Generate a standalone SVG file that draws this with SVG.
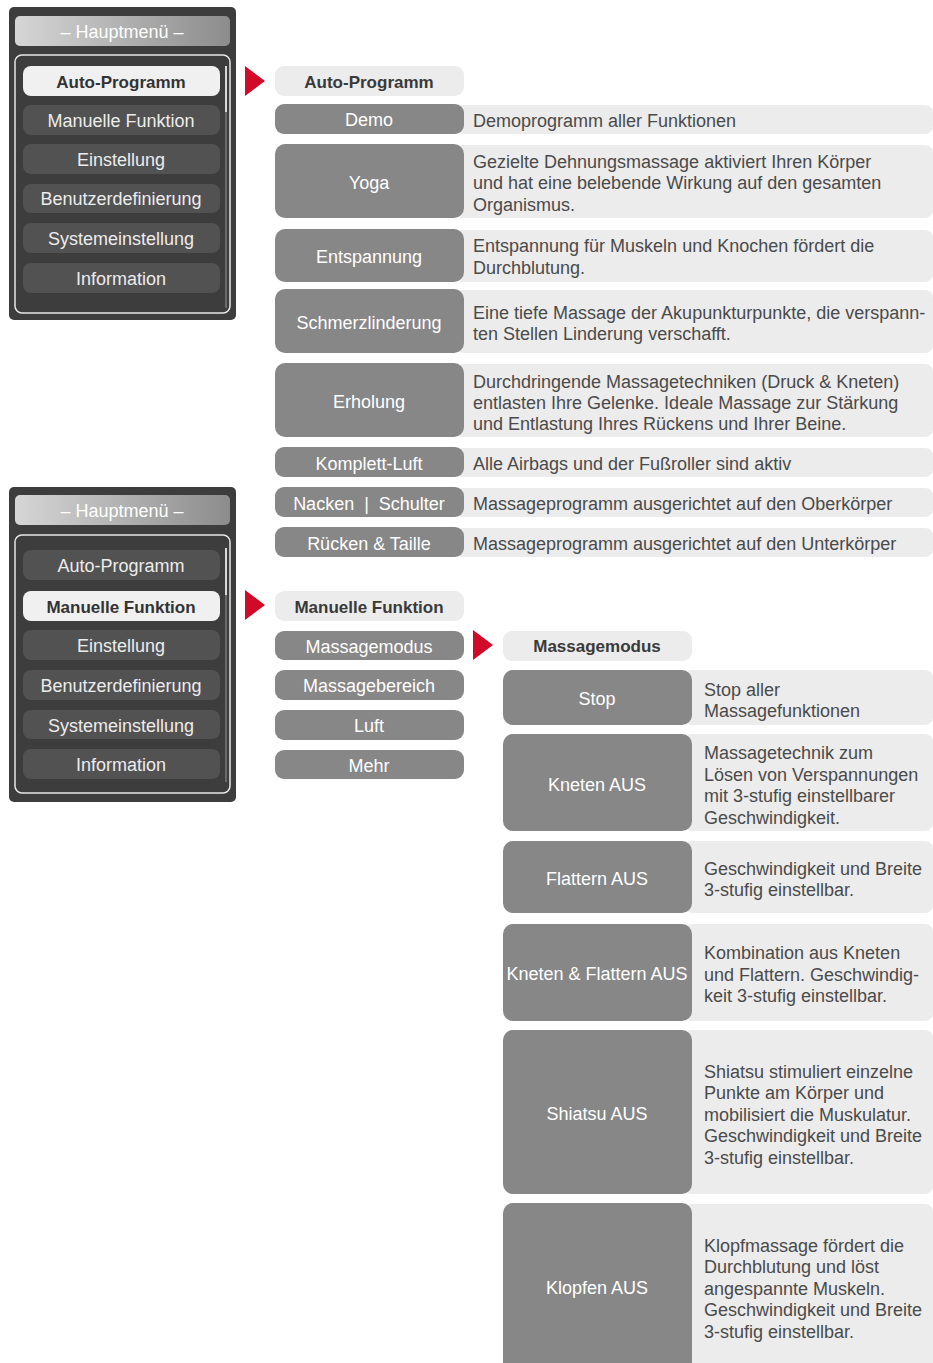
<svg xmlns="http://www.w3.org/2000/svg" width="933" height="1363" viewBox="0 0 933 1363">
<defs>
<linearGradient id="hg" x1="0" y1="0" x2="1" y2="0">
<stop offset="0" stop-color="#d6d6d6"/>
<stop offset="1" stop-color="#8c8c8c"/>
</linearGradient>
<style>
.pn{fill:#3d3d3d}
.hb{fill:url(#hg)}
.ib{fill:none;stroke:#e6e6e6;stroke-width:1.5}
.mb{fill:#525252}
.ms{fill:#f0f0f0}
.trk{stroke:#6a6a6a;stroke-width:2}
.thm{stroke:#d8d8d8;stroke-width:2}
.mt{font-family:"Liberation Sans",Arial,sans-serif;font-size:18px;fill:#ececec;text-anchor:middle}
.mts{font-family:"Liberation Sans",Arial,sans-serif;font-size:17px;font-weight:bold;fill:#333;text-anchor:middle}
.hdt{font-family:"Liberation Sans",Arial,sans-serif;font-size:18px;fill:#ffffff;text-anchor:middle}
.hd{fill:#ececec}
.ht{font-family:"Liberation Sans",Arial,sans-serif;font-size:17px;font-weight:bold;fill:#3a3a3a;text-anchor:middle}
.dk{fill:#878787}
.lt{fill:#ececec}
.lb{font-family:"Liberation Sans",Arial,sans-serif;font-size:18px;fill:#ffffff;text-anchor:middle}
.ds{font-family:"Liberation Sans",Arial,sans-serif;font-size:18px;fill:#4a4a4a}
.arr{fill:#d20a2a}
</style>
</defs>
<rect width="933" height="1363" fill="#ffffff"/>

<!-- Menu panel 1 -->
<g id="menu1">
<rect class="pn" x="9" y="7" width="227" height="313" rx="5"/>
<rect class="hb" x="15" y="16" width="215" height="30" rx="5"/>
<text class="hdt" x="122" y="38">– Hauptmenü –</text>
<rect class="ib" x="15" y="55" width="215" height="258" rx="7"/>
<line class="trk" x1="226" y1="66" x2="226" y2="308"/>
<line class="thm" x1="226" y1="66" x2="226" y2="112"/>
<rect class="ms" x="23" y="66" width="197" height="30" rx="8"/>
<text class="mts" x="121" y="88">Auto-Programm</text>
<rect class="mb" x="23" y="105" width="197" height="30" rx="8"/>
<text class="mt" x="121" y="127">Manuelle Funktion</text>
<rect class="mb" x="23" y="144" width="197" height="30" rx="8"/>
<text class="mt" x="121" y="166">Einstellung</text>
<rect class="mb" x="23" y="184" width="197" height="29" rx="8"/>
<text class="mt" x="121" y="205">Benutzerdefinierung</text>
<rect class="mb" x="23" y="223" width="197" height="30" rx="8"/>
<text class="mt" x="121" y="245">Systemeinstellung</text>
<rect class="mb" x="23" y="263" width="197" height="30" rx="8"/>
<text class="mt" x="121" y="285">Information</text>
</g>

<!-- Menu panel 2 -->
<g id="menu2">
<rect class="pn" x="9" y="487" width="227" height="315" rx="5"/>
<rect class="hb" x="15" y="495" width="215" height="30" rx="5"/>
<text class="hdt" x="122" y="517">– Hauptmenü –</text>
<rect class="ib" x="15" y="535" width="215" height="258" rx="7"/>
<line class="trk" x1="226" y1="548" x2="226" y2="782"/>
<line class="thm" x1="226" y1="548" x2="226" y2="595"/>
<rect class="mb" x="23" y="550" width="197" height="30" rx="8"/>
<text class="mt" x="121" y="572">Auto-Programm</text>
<rect class="ms" x="23" y="591" width="197" height="30" rx="8"/>
<text class="mts" x="121" y="613">Manuelle Funktion</text>
<rect class="mb" x="23" y="630" width="197" height="30" rx="8"/>
<text class="mt" x="121" y="652">Einstellung</text>
<rect class="mb" x="23" y="670" width="197" height="30" rx="8"/>
<text class="mt" x="121" y="692">Benutzerdefinierung</text>
<rect class="mb" x="23" y="710" width="197" height="29" rx="8"/>
<text class="mt" x="121" y="732">Systemeinstellung</text>
<rect class="mb" x="23" y="749" width="197" height="30" rx="8"/>
<text class="mt" x="121" y="771">Information</text>
</g>

<!-- Connectors (red pointers) -->
<g id="connectors">
<polygon class="arr" points="245,66 265,81 245,96"/>
<polygon class="arr" points="245,590 265,605 245,620"/>
<polygon class="arr" points="473,630 493,645 473,660"/>
</g>

<!-- Auto-Programm list -->
<g id="auto-header">
<rect class="hd" x="275" y="66" width="189" height="30" rx="9"/>
<text class="ht" x="369" y="88">Auto-Programm</text>
</g>
<g id="demo">
<rect class="lt" x="455" y="105" width="478" height="29" rx="8"/>
<rect class="dk" x="275" y="104" width="189" height="30" rx="9"/>
<text class="lb" x="369" y="126">Demo</text>
<text class="ds" x="473" y="127">Demoprogramm aller Funktionen</text>
</g>
<g id="yoga">
<rect class="lt" x="455" y="145" width="478" height="73" rx="8"/>
<rect class="dk" x="275" y="144" width="189" height="74" rx="10"/>
<text class="lb" x="369" y="189">Yoga</text>
<text class="ds" x="473" y="168">Gezielte Dehnungsmassage aktiviert Ihren Körper</text>
<text class="ds" x="473" y="189">und hat eine belebende Wirkung auf den gesamten</text>
<text class="ds" x="473" y="211">Organismus.</text>
</g>
<g id="entspannung">
<rect class="lt" x="455" y="230" width="478" height="52" rx="8"/>
<rect class="dk" x="275" y="229" width="189" height="53" rx="10"/>
<text class="lb" x="369" y="263">Entspannung</text>
<text class="ds" x="473" y="252">Entspannung für Muskeln und Knochen fördert die</text>
<text class="ds" x="473" y="274">Durchblutung.</text>
</g>
<g id="schmerzlinderung">
<rect class="lt" x="455" y="290" width="478" height="63" rx="8"/>
<rect class="dk" x="275" y="289" width="189" height="64" rx="10"/>
<text class="lb" x="369" y="329">Schmerzlinderung</text>
<text class="ds" x="473" y="319">Eine tiefe Massage der Akupunkturpunkte, die verspann-</text>
<text class="ds" x="473" y="340">ten Stellen Linderung verschafft.</text>
</g>
<g id="erholung">
<rect class="lt" x="455" y="364" width="478" height="73" rx="8"/>
<rect class="dk" x="275" y="363" width="189" height="74" rx="10"/>
<text class="lb" x="369" y="408">Erholung</text>
<text class="ds" x="473" y="388">Durchdringende Massagetechniken (Druck &amp; Kneten)</text>
<text class="ds" x="473" y="409">entlasten Ihre Gelenke. Ideale Massage zur Stärkung</text>
<text class="ds" x="473" y="430">und Entlastung Ihres Rückens und Ihrer Beine.</text>
</g>
<g id="komplett-luft">
<rect class="lt" x="455" y="448" width="478" height="29" rx="8"/>
<rect class="dk" x="275" y="447" width="189" height="30" rx="9"/>
<text class="lb" x="369" y="470">Komplett-Luft</text>
<text class="ds" x="473" y="470">Alle Airbags und der Fußroller sind aktiv</text>
</g>
<g id="nacken-schulter">
<rect class="lt" x="455" y="488" width="478" height="29" rx="8"/>
<rect class="dk" x="275" y="487" width="189" height="30" rx="9"/>
<text class="lb" x="369" y="510">Nacken&#160;&#160;|&#160;&#160;Schulter</text>
<text class="ds" x="473" y="510">Massageprogramm ausgerichtet auf den Oberkörper</text>
</g>
<g id="ruecken-taille">
<rect class="lt" x="455" y="528" width="478" height="29" rx="8"/>
<rect class="dk" x="275" y="527" width="189" height="30" rx="9"/>
<text class="lb" x="369" y="550">Rücken &amp; Taille</text>
<text class="ds" x="473" y="550">Massageprogramm ausgerichtet auf den Unterkörper</text>
</g>

<!-- Manuelle Funktion list -->
<g id="manuell-header">
<rect class="hd" x="275" y="591" width="189" height="30" rx="9"/>
<text class="ht" x="369" y="613">Manuelle Funktion</text>
</g>
<g id="massagemodus">
<rect class="dk" x="275" y="631" width="189" height="29" rx="9"/>
<text class="lb" x="369" y="653">Massagemodus</text>
</g>
<g id="massagebereich">
<rect class="dk" x="275" y="670" width="189" height="30" rx="9"/>
<text class="lb" x="369" y="692">Massagebereich</text>
</g>
<g id="luft">
<rect class="dk" x="275" y="710" width="189" height="30" rx="9"/>
<text class="lb" x="369" y="732">Luft</text>
</g>
<g id="mehr">
<rect class="dk" x="275" y="750" width="189" height="29" rx="9"/>
<text class="lb" x="369" y="772">Mehr</text>
</g>

<!-- Massagemodus list -->
<g id="modus-header">
<rect class="hd" x="503" y="631" width="189" height="30" rx="9"/>
<text class="ht" x="597" y="652">Massagemodus</text>
</g>
<g id="stop">
<rect class="lt" x="684" y="670" width="249" height="55" rx="8"/>
<rect class="dk" x="503" y="670" width="189" height="55" rx="10"/>
<text class="lb" x="597" y="705">Stop</text>
<text class="ds" x="704" y="696">Stop aller</text>
<text class="ds" x="704" y="717">Massagefunktionen</text>
</g>
<g id="kneten">
<rect class="lt" x="684" y="734" width="249" height="97" rx="8"/>
<rect class="dk" x="503" y="734" width="189" height="97" rx="10"/>
<text class="lb" x="597" y="791">Kneten AUS</text>
<text class="ds" x="704" y="759">Massagetechnik zum</text>
<text class="ds" x="704" y="781">Lösen von Verspannungen</text>
<text class="ds" x="704" y="802">mit 3-stufig einstellbarer</text>
<text class="ds" x="704" y="824">Geschwindigkeit.</text>
</g>
<g id="flattern">
<rect class="lt" x="684" y="841" width="249" height="72" rx="8"/>
<rect class="dk" x="503" y="841" width="189" height="72" rx="10"/>
<text class="lb" x="597" y="885">Flattern AUS</text>
<text class="ds" x="704" y="875">Geschwindigkeit und Breite</text>
<text class="ds" x="704" y="896">3-stufig einstellbar.</text>
</g>
<g id="kneten-flattern">
<rect class="lt" x="684" y="924" width="249" height="97" rx="8"/>
<rect class="dk" x="503" y="924" width="189" height="97" rx="10"/>
<text class="lb" x="597" y="980">Kneten &amp; Flattern AUS</text>
<text class="ds" x="704" y="959">Kombination aus Kneten</text>
<text class="ds" x="704" y="981">und Flattern. Geschwindig-</text>
<text class="ds" x="704" y="1002">keit 3-stufig einstellbar.</text>
</g>
<g id="shiatsu">
<rect class="lt" x="684" y="1030" width="249" height="164" rx="8"/>
<rect class="dk" x="503" y="1030" width="189" height="164" rx="10"/>
<text class="lb" x="597" y="1120">Shiatsu AUS</text>
<text class="ds" x="704" y="1078">Shiatsu stimuliert einzelne</text>
<text class="ds" x="704" y="1099">Punkte am Körper und</text>
<text class="ds" x="704" y="1121">mobilisiert die Muskulatur.</text>
<text class="ds" x="704" y="1142">Geschwindigkeit und Breite</text>
<text class="ds" x="704" y="1164">3-stufig einstellbar.</text>
</g>
<g id="klopfen">
<rect class="lt" x="684" y="1204" width="249" height="175" rx="8"/>
<rect class="dk" x="503" y="1203" width="189" height="176" rx="10"/>
<text class="lb" x="597" y="1294">Klopfen AUS</text>
<text class="ds" x="704" y="1252">Klopfmassage fördert die</text>
<text class="ds" x="704" y="1273">Durchblutung und löst</text>
<text class="ds" x="704" y="1295">angespannte Muskeln.</text>
<text class="ds" x="704" y="1316">Geschwindigkeit und Breite</text>
<text class="ds" x="704" y="1338">3-stufig einstellbar.</text>
</g>
</svg>
